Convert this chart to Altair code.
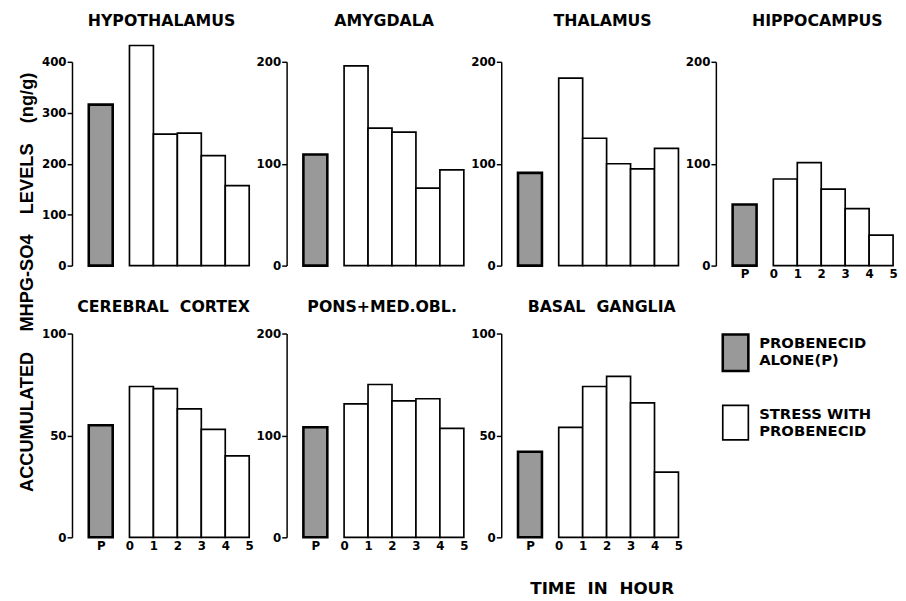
import altair as alt
import pandas as pd

# ---------------- data ----------------
regions = ["HYPOTHALAMUS", "AMYGDALA", "THALAMUS", "HIPPOCAMPUS",
           "CEREBRAL\u00a0 CORTEX", "PONS+MED.OBL.", "BASAL\u00a0 GANGLIA"]
probenecid_alone = [316, 109, 91, 60, 55, 108, 42]
stress_hypothalamus = [432, 258, 260, 216, 157]
stress_amygdala = [196, 135, 131, 76, 94]
stress_thalamus = [184, 125, 100, 95, 115]
stress_hippocampus = [85, 101, 75, 56, 30]
stress_cortex = [74, 73, 63, 53, 40]
stress_pons = [131, 150, 134, 136, 107]
stress_basal = [54, 74, 79, 66, 32]
stress_values = [stress_hypothalamus, stress_amygdala, stress_thalamus,
                 stress_hippocampus, stress_cortex, stress_pons, stress_basal]
hours = [0, 1, 2, 3, 4]
hour_ticks = [0, 1, 2, 3, 4, 5]
y_max = [400, 200, 200, 200, 100, 200, 100]
y_step = [100, 100, 100, 100, 50, 100, 50]
legend_labels = ["PROBENECID\nALONE(P)", "STRESS WITH\nPROBENECID"]
GAP = "\u00a0\u00a0\u00a0 "
y_title = "ACCUMULATED" + GAP + "MHPG-SO4" + GAP + "LEVELS" + GAP + "(ng/g)"
x_title = "TIME\u00a0 IN\u00a0 HOUR"

# ---------------- style ----------------
FONT = "DejaVu Sans"
P_LEFT = -1.7
X_MIN = -2.4
STIPPLE = "#999999"
PANEL_W = 180
PANEL_H = 207
title_dx = [1, 9, 13, 13, 3, 7, 12]
title_offset = [3, 14, 14, 14, 0, 0, 0]
NO_BORDER = alt.ViewBackground(strokeWidth=0, strokeOpacity=0)


def make_panel(i):
    rows = [{"kind": "P", "x0": P_LEFT, "x1": P_LEFT + 1, "v": probenecid_alone[i]}]
    rows += [{"kind": "S", "x0": h, "x1": h + 1, "v": v}
             for h, v in zip(hours, stress_values[i])]
    df = pd.DataFrame(rows)
    bottom_row = i >= 4
    show_x = bottom_row or i == 3
    if show_x:
        xa = dict(values=[P_LEFT + 0.5] + hour_ticks,
                  labelExpr="datum.value < 0 ? 'P' : datum.label",
                  domain=False, ticks=False, grid=False, labelPadding=3,
                  labelFont=FONT, labelFontSize=12, labelFontWeight="bold",
                  labelColor="black", labelFlush=False, labelOverlap=False)
        if i == 6:
            xa.update(titleFont=FONT, titleFontSize=17,
                      titleFontWeight="bold", titleColor="black",
                      titlePadding=30, titleX=102)
        xaxis = alt.Axis(**xa)
    else:
        xaxis = None
    yaxis = alt.Axis(values=list(range(0, y_max[i] + 1, y_step[i])),
                     domain=True, domainColor="black", domainWidth=1.5,
                     ticks=True, tickColor="black", tickWidth=1.5, tickSize=5,
                     labelPadding=1, labelFont=FONT, labelFontSize=12,
                     labelFontWeight="bold", labelColor="black", grid=False,
                     labelFlush=False, labelOverlap=False, format="d")
    x_enc = alt.X("x0:Q", scale=alt.Scale(domain=[X_MIN, 5], nice=False, zero=False),
                  axis=xaxis, title=x_title if i == 6 else None)
    ch = alt.Chart(df).mark_rect(stroke="black").encode(
        x=x_enc,
        x2="x1:Q",
        y=alt.Y("v:Q", scale=alt.Scale(domain=[0, y_max[i]], nice=False),
                axis=yaxis, title=None),
        y2=alt.datum(0),
        fill=alt.condition(alt.datum.kind == "P", alt.value(STIPPLE), alt.value("white")),
        strokeWidth=alt.condition(alt.datum.kind == "P", alt.value(2.6), alt.value(1.7)),
    ).properties(
        width=PANEL_W, height=PANEL_H, view=NO_BORDER,
        title=alt.TitleParams(text=regions[i], font=FONT, fontSize=16,
                              fontWeight="bold", color="black",
                              offset=title_offset[i],
                              anchor="middle", dx=title_dx[i],
                              baseline="alphabetic"),
    )
    return ch


def legend_item(k, fill, sw, top, h):
    d = pd.DataFrame({"t": [legend_labels[k]]})
    box = alt.Chart(d).mark_rect(fill=fill, stroke="black", strokeWidth=sw).encode(
        x=alt.value(39), x2=alt.value(65), y=alt.value(top), y2=alt.value(top + h))
    txt = alt.Chart(d).mark_text(align="left", baseline="top", lineBreak="\n",
                                 font=FONT, fontSize=15, fontWeight="bold",
                                 lineHeight=17, color="black").encode(
        text="t:N", x=alt.value(76), y=alt.value(top + 2))
    return box + txt


legend_panel = alt.layer(
    legend_item(0, STIPPLE, 2.6, 1, 37),
    legend_item(1, "white", 1.7, 73, 35),
).properties(width=180, height=150, view=NO_BORDER)

ylab = alt.Chart(pd.DataFrame({"t": [y_title]})).mark_text(
    angle=270, align="center", baseline="alphabetic", font="Liberation Sans",
    fontSize=18.5, fontWeight="bold", color="black").encode(
    text="t:N", x=alt.value(25), y=alt.value(224)
).properties(width=30, height=450, view=NO_BORDER)

panels = [make_panel(i) for i in range(7)]
row1 = alt.hconcat(*panels[:4], spacing=5)
row2 = alt.hconcat(*panels[4:], legend_panel, spacing=1)
grid = alt.vconcat(row1, row2, spacing=20)

chart = alt.hconcat(ylab, grid, spacing=3).properties(
    padding={"left": 0, "top": 0, "right": 0, "bottom": 0},
    background="white",
).configure_view(strokeWidth=0, strokeOpacity=0)

chart.save("out.html", embed_options={"renderer": "svg", "actions": False})
